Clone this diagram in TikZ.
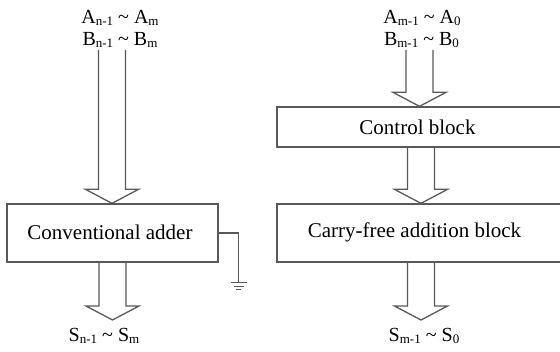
\documentclass[tikz,border=0pt]{standalone}
\usepackage{fontspec}
\setmainfont{Liberation Serif}
\usetikzlibrary{calc}

% lowered, smaller index text for the signal names
\newcommand\lowsub[1]{\raisebox{-2.5pt}{\fontsize{13}{14}\selectfont #1}}

\tikzset{
  wire/.style={draw=black!65, line width=1.3pt},
  blockbox/.style={rectangle, draw=black!65, line width=1.3pt, inner sep=0pt},
  boxtext/.style={inner sep=0pt, font=\fontsize{21}{24}\selectfont},
  sig/.style={inner sep=0pt, font=\fontsize{20}{22}\selectfont}
}

% hollow block arrow: shaft from #1 down to the tip at the height of #2
\newcommand\hollowarrow[2]{%
  \draw[wire, line join=miter] let \p1=(#1), \p2=(#2) in
    (\x1-13.5pt,\y1) -- (\x1-13.5pt,\y2+14pt) -- (\x1-26.5pt,\y2+14pt)
    -- (\x1,\y2) -- (\x1+26.5pt,\y2+14pt) -- (\x1+13.5pt,\y2+14pt)
    -- (\x1+13.5pt,\y1);}

\begin{document}
\begin{tikzpicture}[x=1pt,y=-1pt]
\clip (0,0) rectangle (560,352);

% ---- upper part of the sum: conventional adder ----
\node[sig] (aL) at (120,18) {A\lowsub{n-1} \textasciitilde\ A\lowsub{m}};
\node[sig] (bL) at (120,40) {B\lowsub{n-1} \textasciitilde\ B\lowsub{m}};
\node[blockbox, minimum width=211pt, minimum height=58pt] (adder) at (112.5,233) {};
\node[boxtext] (addertext) at (110,232) {Conventional adder};
\node[sig] (sL) at (104,336) {S\lowsub{n-1} \textasciitilde\ S\lowsub{m}};

\coordinate (inL) at (112,50);
\coordinate (outL) at (112,320);
\hollowarrow{inL}{adder.north}
\hollowarrow{adder.south}{outL}

% carry input tied to ground
\coordinate (gnd) at (238.5,283);
\draw[wire] (adder.east) -| (gnd);
\draw[wire, line width=1pt] ($(gnd)+(-8,0)$) -- ($(gnd)+(8,0)$);
\draw[wire, line width=1pt] ($(gnd)+(-5,3.5)$) -- ($(gnd)+(5,3.5)$);
\draw[wire, line width=1pt] ($(gnd)+(-2.5,7)$) -- ($(gnd)+(2.5,7)$);

% ---- lower part of the sum: control and carry-free blocks ----
\node[sig] (aR) at (422,18) {A\lowsub{m-1} \textasciitilde\ A\lowsub{0}};
\node[sig] (bR) at (421.5,40) {B\lowsub{m-1} \textasciitilde\ B\lowsub{0}};
\node[blockbox, minimum width=288pt, minimum height=40pt] (control) at (421,127) {};
\node[boxtext] (controltext) at (417.5,127) {Control block};
\node[blockbox, minimum width=288pt, minimum height=58pt] (carry) at (421,233) {};
\node[boxtext] (carrytext) at (414.5,232) {Carry-free addition block};
\node[sig] (sR) at (424,336) {S\lowsub{m-1} \textasciitilde\ S\lowsub{0}};

\coordinate (inR) at (419.5,50);
\coordinate (outR) at (419.5,320);
\hollowarrow{inR}{control.north}
\hollowarrow{control.south}{carry.north}
\hollowarrow{carry.south}{outR}
\end{tikzpicture}
\end{document}
